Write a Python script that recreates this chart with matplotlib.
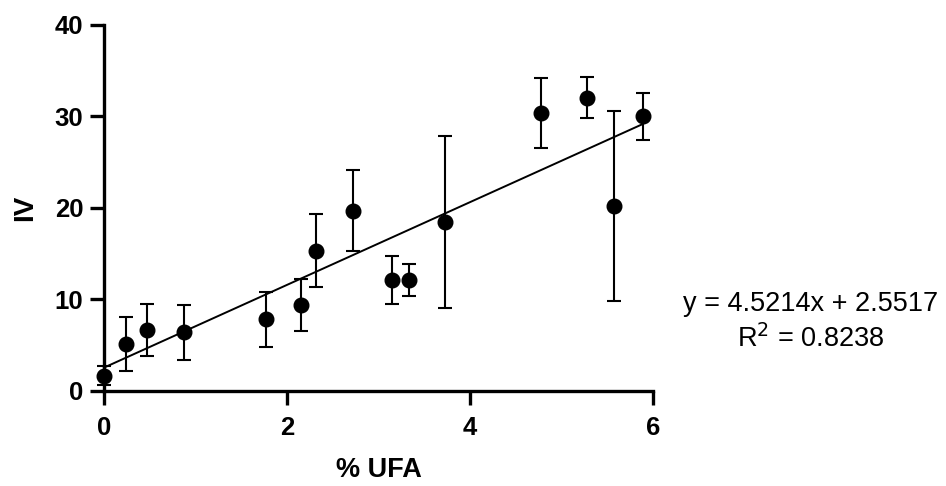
import matplotlib.pyplot as plt

plt.rcParams["font.family"] = ["Liberation Sans", "DejaVu Sans"]

ufa = [0.0, 0.24, 0.47, 0.88, 1.77, 2.15, 2.32, 2.72, 3.15, 3.33, 3.73, 4.78, 5.28, 5.57, 5.89]
iv = [1.67, 5.14, 6.67, 6.41, 7.83, 9.40, 15.33, 19.70, 12.13, 12.13, 18.47, 30.38, 32.06, 20.20, 30.05]
iv_err = [1.05, 2.93, 2.82, 3.02, 2.98, 2.88, 4.02, 4.44, 2.64, 1.78, 9.45, 3.80, 2.25, 10.37, 2.57]

slope = 4.5214
intercept = 2.5517
r_squared = 0.8238

xticks = [0, 2, 4, 6]
yticks = [0, 10, 20, 30, 40]

fig = plt.figure(figsize=(9.46, 4.86), dpi=100)
ax = fig.add_axes([0.1099, 0.1955, 0.5804, 0.7531])

fit_x = [min(ufa), max(ufa)]
fit_y = [slope * v + intercept for v in fit_x]
ax.plot(fit_x, fit_y, color="black", linewidth=1.4, clip_on=False, zorder=2)

ax.errorbar(ufa, iv, yerr=iv_err, fmt="o", color="black", markersize=10.5,
            elinewidth=1.5, capsize=5, capthick=1.5, clip_on=False, zorder=3)

ax.set_xlim(0, 6)
ax.set_ylim(0, 40)
ax.set_xticks(xticks)
ax.set_yticks(yticks)
for side in ["top", "right"]:
    ax.spines[side].set_visible(False)
for side in ["left", "bottom"]:
    ax.spines[side].set_linewidth(2.4)
ax.tick_params(width=2.4, length=10, labelsize=18.5, direction="out")
ax.tick_params(axis="x", pad=8)
ax.tick_params(axis="y", pad=5)
for lbl in ax.get_xticklabels() + ax.get_yticklabels():
    lbl.set_fontweight("bold")

ax.set_xlabel("% UFA", fontsize=19.5, fontweight="bold", labelpad=12)
ax.set_ylabel("IV", fontsize=20, fontweight="bold", labelpad=12)

fig.text(0.857, 0.337, f"y = {slope}x + {intercept}\nR$^2$ = {r_squared}",
         fontsize=19.5, ha="center", va="center", multialignment="center",
         linespacing=1.35)

fig.savefig("out.png", dpi=100)
